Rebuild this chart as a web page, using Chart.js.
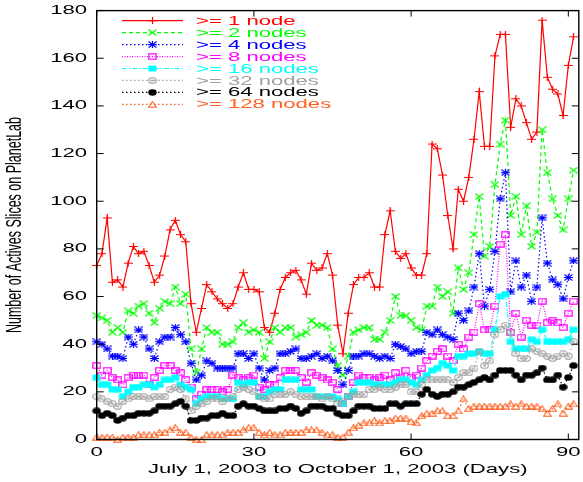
<!DOCTYPE html>
<html>
<head>
<meta charset="utf-8">
<title>Active slices on PlanetLab</title>
<script src="https://cdn.jsdelivr.net/npm/chart.js@4.4.1/dist/chart.umd.min.js"></script>
<style>
  html, body { margin: 0; padding: 0; background: #fff; }
  #wrap { width: 583px; height: 482px; }
</style>
</head>
<body>
<div id="wrap"><canvas id="chart" width="583" height="482"></canvas></div>
<script>
// Days since July 1, 2003
const days = Array.from({ length: 92 }, (_, i) => i);

const seriesNames = ['>= 1 node', '>= 2 nodes', '>= 4 nodes', '>= 8 nodes',
  '>= 16 nodes', '>= 32 nodes', '>= 64 nodes', '>= 128 nodes'];

const node1 = [73, 78, 93, 66, 67, 64, 74, 81, 78, 79,
  73, 66, 69, 77, 88, 92, 86, 83, 57, 45,
  55, 65, 62, 59, 57, 55, 57, 64, 70, 63,
  63, 62, 47, 45, 53, 63, 68, 70, 71, 67,
  61, 74, 71, 72, 78, 69, 48, 36, 53, 65,
  68, 68, 70, 64, 64, 86, 96, 79, 76, 78,
  72, 69, 69, 78, 124, 122, 111, 94, 80, 105,
  100, 110, 126, 146, 123, 123, 161, 170, 170, 131,
  143, 140, 133, 126, 129, 176, 152, 147, 145, 136,
  157, 169];
const node2 = [52, 51, 50, 45, 47, 45, 54, 53, 56, 57,
  53, 49, 55, 58, 57, 64, 57, 61, 38, 28,
  38, 47, 45, 45, 40, 40, 41, 47, 49, 45,
  46, 45, 34, 41, 47, 45, 47, 47, 43, 44,
  45, 50, 48, 48, 47, 38, 31, 27, 35, 45,
  46, 47, 47, 42, 42, 45, 50, 60, 52, 52,
  50, 47, 46, 56, 56, 64, 60, 62, 53, 72,
  63, 70, 86, 102, 77, 81, 107, 124, 134, 94,
  102, 86, 98, 81, 87, 130, 112, 101, 94, 88,
  101, 113];
const node4 = [41, 40, 38, 35, 35, 34, 43, 40, 46, 43,
  38, 34, 41, 43, 43, 47, 44, 41, 32, 25,
  27, 33, 32, 30, 30, 30, 30, 36, 36, 34,
  36, 30, 25, 29, 30, 36, 36, 37, 38, 34,
  34, 35, 36, 34, 35, 33, 29, 23, 29, 35,
  35, 36, 36, 35, 34, 35, 34, 40, 39, 38,
  36, 37, 37, 45, 44, 46, 44, 43, 42, 53,
  50, 54, 64, 78, 56, 63, 79, 101, 112, 62,
  75, 64, 69, 58, 64, 93, 74, 67, 65, 59,
  68, 75];
const node8 = [31, 27, 29, 26, 25, 23, 26, 27, 27, 27,
  23, 26, 29, 31, 31, 29, 28, 25, 22, 17,
  19, 21, 21, 21, 20, 21, 27, 26, 25, 26,
  27, 22, 21, 23, 23, 26, 29, 29, 29, 26,
  24, 28, 27, 26, 25, 24, 21, 15, 18, 24,
  27, 26, 26, 25, 26, 27, 25, 28, 26, 29,
  26, 27, 30, 33, 35, 37, 38, 35, 33, 40,
  38, 43, 45, 57, 46, 46, 56, 82, 86, 45,
  53, 43, 50, 48, 48, 58, 49, 50, 49, 47,
  53, 58];
const node16 = [26, 23, 23, 21, 21, 18, 20, 22, 22, 23,
  23, 22, 23, 25, 25, 26, 23, 22, 21, 15,
  17, 18, 18, 18, 17, 17, 17, 24, 23, 24,
  24, 18, 18, 20, 21, 21, 25, 25, 25, 21,
  21, 21, 18, 18, 18, 18, 17, 15, 18, 20,
  24, 24, 24, 23, 23, 23, 23, 24, 25, 25,
  24, 23, 25, 27, 29, 30, 32, 31, 29, 35,
  35, 36, 36, 37, 36, 36, 46, 60, 61, 41,
  38, 38, 38, 42, 41, 46, 41, 41, 41, 41,
  42, 46];
const node32 = [18, 17, 16, 15, 14, 16, 17, 18, 18, 18,
  17, 18, 18, 18, 21, 22, 21, 17, 12, 14,
  15, 16, 17, 17, 16, 17, 18, 21, 22, 21,
  20, 18, 17, 17, 19, 19, 19, 20, 19, 18,
  18, 18, 18, 17, 18, 17, 15, 16, 18, 19,
  19, 19, 21, 21, 22, 21, 21, 22, 23, 23,
  20, 20, 23, 25, 25, 25, 25, 25, 24, 26,
  28, 28, 30, 37, 31, 33, 44, 46, 48, 45,
  36, 34, 34, 38, 37, 36, 35, 34, 35, 36,
  35, 41];
const node64 = [12, 10, 11, 10, 8, 9, 10, 10, 11, 11,
  11, 12, 14, 14, 14, 15, 16, 14, 8, 8,
  9, 9, 10, 10, 11, 10, 10, 14, 15, 14,
  14, 13, 12, 12, 12, 13, 13, 14, 13, 11,
  12, 14, 14, 14, 13, 13, 11, 10, 10, 12,
  14, 14, 14, 13, 13, 13, 15, 15, 14, 15,
  15, 15, 19, 21, 19, 18, 19, 19, 20, 22,
  22, 23, 24, 25, 26, 25, 27, 29, 29, 29,
  27, 25, 27, 27, 28, 30, 25, 25, 27, 22,
  26, 31];
const node128 = [1, 1, 1, 1, 0, 1, 1, 1, 2, 2,
  2, 2, 3, 3, 4, 5, 3, 3, 1, 0,
  0, 2, 2, 2, 2, 3, 3, 3, 4, 5,
  5, 3, 2, 3, 2, 2, 3, 3, 3, 3,
  4, 4, 4, 3, 2, 2, 1, 1, 3, 5,
  6, 7, 7, 8, 7, 8, 8, 9, 9, 9,
  7.5, 7, 10, 11, 11, 12, 12, 10, 10, 12,
  17, 13, 14, 14, 14, 14, 14, 14, 14, 15,
  14, 15, 14, 14, 14, 13, 11, 13, 15, 11,
  14, 15];

const xTicks = [0, 30, 60, 90];
const yTicks = [0, 20, 40, 60, 80, 100, 120, 140, 160, 180];

const colors = ['#ff0000', '#00ff00', '#0000ff', '#ff00ff', '#00ffff', '#a0a0a0', '#000000', '#ff5f1f'];
const dashes = [[], [4, 3], [1.5, 2.5], [1, 1.5], [5, 2, 1.5, 2], [1.5, 2.5], [1.5, 2.5], [1.5, 2.5]];
const allSeries = [node1, node2, node4, node8, node16, node32, node64, node128];

// gnuplot-like markers (the original output is stretched sideways)
function marker(w, h, draw) {
  const c = document.createElement('canvas');
  c.width = w; c.height = h;
  const g = c.getContext('2d');
  draw(g, w, h);
  return c;
}
const markers = [
  marker(9, 7, (g, w, h) => { g.strokeStyle = colors[0]; g.lineWidth = 1.2; g.beginPath(); g.moveTo(0, h / 2); g.lineTo(w, h / 2); g.moveTo(w / 2, 0); g.lineTo(w / 2, h); g.stroke(); }),
  marker(9, 7, (g, w, h) => { g.strokeStyle = colors[1]; g.lineWidth = 1.2; g.beginPath(); g.moveTo(0.5, 0.5); g.lineTo(w - 0.5, h - 0.5); g.moveTo(w - 0.5, 0.5); g.lineTo(0.5, h - 0.5); g.stroke(); }),
  marker(9, 7, (g, w, h) => { g.strokeStyle = colors[2]; g.lineWidth = 1.2; g.beginPath(); g.moveTo(0.5, 0.5); g.lineTo(w - 0.5, h - 0.5); g.moveTo(w - 0.5, 0.5); g.lineTo(0.5, h - 0.5); g.moveTo(0, h / 2); g.lineTo(w, h / 2); g.moveTo(w / 2, 0); g.lineTo(w / 2, h); g.stroke(); }),
  marker(9, 7, (g, w, h) => { g.strokeStyle = colors[3]; g.lineWidth = 1.2; g.strokeRect(0.8, 0.8, w - 1.6, h - 1.6); }),
  marker(9, 7, (g, w, h) => { g.fillStyle = colors[4]; g.fillRect(0.5, 0.5, w - 1, h - 1); }),
  marker(9, 7, (g, w, h) => { g.strokeStyle = colors[5]; g.fillStyle = colors[5]; g.lineWidth = 1.1; g.beginPath(); g.ellipse(w / 2, h / 2, w / 2 - 0.7, h / 2 - 0.7, 0, 0, Math.PI * 2); g.stroke(); g.beginPath(); g.ellipse(w / 2, h / 2, 1.3, 1, 0, 0, Math.PI * 2); g.fill(); }),
  marker(9, 7, (g, w, h) => { g.fillStyle = colors[6]; g.beginPath(); g.ellipse(w / 2, h / 2, w / 2 - 0.3, h / 2 - 0.3, 0, 0, Math.PI * 2); g.fill(); }),
  marker(9, 7, (g, w, h) => { g.strokeStyle = colors[7]; g.lineWidth = 1.1; g.beginPath(); g.moveTo(w / 2, 0.7); g.lineTo(w - 0.6, h - 0.7); g.lineTo(0.6, h - 0.7); g.closePath(); g.stroke(); })
];

const datasets = allSeries.map((vals, i) => ({
  label: seriesNames[i],
  data: days.map((d, k) => ({ x: d, y: vals[k] })),
  borderColor: colors[i],
  backgroundColor: colors[i],
  borderWidth: 1.2,
  borderDash: dashes[i],
  pointStyle: markers[i],
  pointRadius: 3,
  pointHoverRadius: 3,
  tension: 0,
  clip: false,
  order: 8 - i
}));

const FONT = '"Liberation Sans", Arial, Helvetica, sans-serif';
const SX = 1.7;

function wideText(ctx, text, x, y, align, baseline, size) {
  ctx.save();
  ctx.translate(x, y);
  ctx.scale(SX, 1);
  ctx.font = size + 'px ' + FONT;
  ctx.textAlign = align;
  ctx.textBaseline = baseline;
  ctx.fillText(text, 0, 0);
  ctx.restore();
}

const decorations = {
  id: 'decorations',
  afterDraw(chart) {
    const ctx = chart.ctx;
    const a = chart.chartArea;
    const xs = chart.scales.x, ys = chart.scales.y;

    // frame and inward ticks
    ctx.save();
    ctx.strokeStyle = '#000';
    ctx.lineWidth = 1.4;
    ctx.strokeRect(a.left, a.top, a.right - a.left, a.bottom - a.top);
    ctx.lineWidth = 1;
    ctx.beginPath();
    yTicks.forEach(v => {
      const y = ys.getPixelForValue(v);
      ctx.moveTo(a.left, y); ctx.lineTo(a.left + 7, y);
      ctx.moveTo(a.right, y); ctx.lineTo(a.right - 7, y);
    });
    xTicks.forEach(v => {
      const x = xs.getPixelForValue(v);
      ctx.moveTo(x, a.bottom); ctx.lineTo(x, a.bottom - 6);
      ctx.moveTo(x, a.top); ctx.lineTo(x, a.top + 6);
    });
    ctx.stroke();
    ctx.restore();

    // tick labels
    ctx.fillStyle = '#000';
    yTicks.forEach(v => wideText(ctx, String(v), 87, ys.getPixelForValue(v), 'right', 'middle', 13));
    xTicks.forEach(v => wideText(ctx, String(v), xs.getPixelForValue(v), 456, 'center', 'alphabetic', 13));

    // axis titles
    wideText(ctx, 'July 1, 2003 to October 1, 2003 (Days)', (a.left + a.right) / 2, 473, 'center', 'alphabetic', 13);
    ctx.save();
    ctx.translate(15.5, (a.top + a.bottom) / 2);
    ctx.scale(SX, 1);
    ctx.rotate(-Math.PI / 2);
    ctx.font = '12.5px ' + FONT;
    ctx.textAlign = 'center';
    ctx.textBaseline = 'middle';
    ctx.fillStyle = '#000';
    ctx.fillText('Number of Actives Slices on PlanetLab', 0, 0);
    ctx.restore();

    // legend: line sample with marker, then label
    seriesNames.forEach((name, i) => {
      const y = 20.7 + i * 11.95;
      ctx.save();
      ctx.strokeStyle = colors[i];
      ctx.lineWidth = 1.2;
      ctx.setLineDash(dashes[i]);
      ctx.beginPath();
      ctx.moveTo(122, y); ctx.lineTo(183, y);
      ctx.stroke();
      ctx.restore();
      const m = markers[i];
      ctx.drawImage(m, 152.5 - m.width / 2, y - m.height / 2);
      ctx.fillStyle = colors[i];
      wideText(ctx, name, 196, y + 0.5, 'left', 'middle', 13);
    });
  }
};

new Chart(document.getElementById('chart'), {
  type: 'line',
  data: { datasets },
  options: {
    responsive: false,
    animation: false,
    events: [],
    layout: { padding: { left: 0, right: 1.5, top: 10.6, bottom: 0 } },
    plugins: { legend: { display: false }, tooltip: { enabled: false } },
    scales: {
      x: {
        type: 'linear', min: 0, max: 92,
        grid: { display: false }, border: { display: false },
        ticks: { display: false },
        afterFit(scale) { scale.height = 42.5; }
      },
      y: {
        min: 0, max: 180,
        grid: { display: false }, border: { display: false },
        ticks: { display: false },
        afterFit(scale) { scale.width = 96.7; }
      }
    }
  },
  plugins: [decorations]
});
</script>
</body>
</html>
